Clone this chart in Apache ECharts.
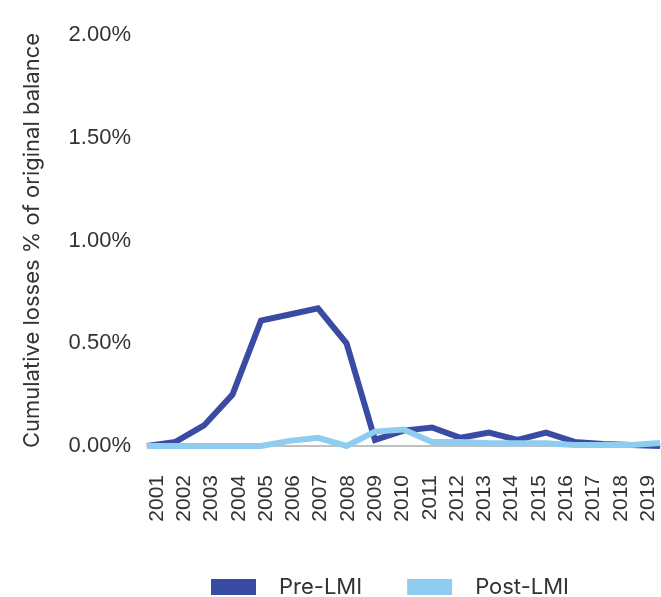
<!DOCTYPE html>
<html>
<head>
<meta charset="utf-8">
<script src="https://cdn.jsdelivr.net/npm/echarts@6/dist/echarts.min.js"></script>
<style>html,body{margin:0;padding:0;background:#fff}#c{width:661px;height:597px}</style>
</head>
<body>
<div id="c"></div>
<script>
const years = ['2001','2002','2003','2004','2005','2006','2007','2008','2009','2010','2011','2012','2013','2014','2015','2016','2017','2018','2019'];
const preLMI = [0.0, 0.02, 0.10, 0.25, 0.61, 0.64, 0.67, 0.50, 0.03, 0.075, 0.09, 0.04, 0.065, 0.03, 0.065, 0.02, 0.01, 0.005, 0.0];
const postLMI = [0.0, 0.0, 0.0, 0.0, 0.0, 0.025, 0.04, 0.0, 0.07, 0.08, 0.02, 0.02, 0.013, 0.013, 0.013, 0.005, 0.005, 0.005, 0.015];
const yTicks = [0, 0.5, 1.0, 1.5, 2.0];
const seriesNames = ['Pre-LMI', 'Post-LMI'];
const yTitle = 'Cumulative losses % of original balance';

const font = 'Liberation Sans, Arial, sans-serif';
const wideFont = 'Inter, Liberation Sans, sans-serif';
const chart = echarts.init(document.getElementById('c'));
chart.setOption({
  animation: false,
  backgroundColor: '#fff',
  legend: {
    left: 211, top: 576, padding: 0,
    itemWidth: 45, itemHeight: 16, itemGap: 45,
    icon: 'rect',
    data: seriesNames,
    textStyle: { fontFamily: wideFont, fontSize: 22, color: '#333', padding: [0, 0, 8, 18] }
  },
  grid: [
    { left: 147, right: 1, top: 35, bottom: 151 },
    { left: 157, right: 13, top: 35, bottom: 151 }
  ],
  xAxis: [
    {
      gridIndex: 0, type: 'category', data: years, boundaryGap: false, offset: 3,
      axisLine: { lineStyle: { color: '#c0c0c0', width: 2 } },
      axisTick: { show: false }, axisLabel: { show: false }
    },
    {
      gridIndex: 1, type: 'category', data: years, boundaryGap: false,
      axisLine: { show: false }, axisTick: { show: false },
      axisLabel: { rotate: 90, margin: 29, interval: 0, fontFamily: font, fontSize: 21, color: '#333' }
    }
  ],
  yAxis: [
    {
      gridIndex: 0, type: 'value', min: 0, max: 2, interval: 0.5,
      name: yTitle, nameLocation: 'middle', nameGap: 104,
      nameTextStyle: { fontFamily: wideFont, fontSize: 22, color: '#333' },
      axisLine: { show: false }, axisTick: { show: false }, splitLine: { show: false },
      axisLabel: { margin: 16, fontFamily: font, fontSize: 22, color: '#333',
        formatter: v => yTicks.includes(v) ? v.toFixed(2) + '%' : '' }
    },
    { gridIndex: 1, type: 'value', show: false }
  ],
  series: [
    { name: seriesNames[0], type: 'line', xAxisIndex: 0, yAxisIndex: 0, data: preLMI,
      symbol: 'none', color: '#3A4BA3', lineStyle: { width: 6, color: '#3A4BA3', join: 'miter' } },
    { name: seriesNames[1], type: 'line', xAxisIndex: 0, yAxisIndex: 0, data: postLMI,
      symbol: 'none', color: '#8ECDF0', lineStyle: { width: 6, color: '#8ECDF0', join: 'miter' } }
  ]
});
</script>
</body>
</html>
